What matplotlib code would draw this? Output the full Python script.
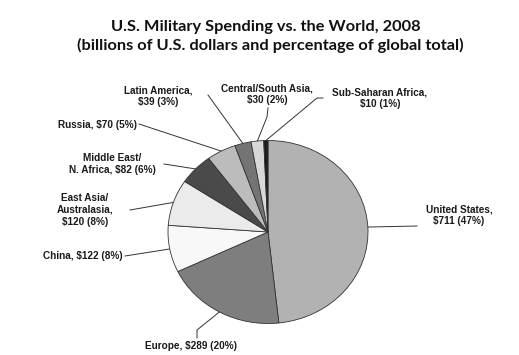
import numpy as np
import matplotlib
matplotlib.use("Agg")
import matplotlib.pyplot as plt

regions = ["United States", "Europe", "China", "East Asia/Australasia", "Middle East/N. Africa",
           "Russia", "Latin America", "Central/South Asia", "Sub-Saharan Africa"]
spending = [711, 289, 122, 120, 82, 70, 39, 30, 10]
percents = [47, 20, 8, 8, 6, 5, 3, 2, 1]
label_texts = ["United States,\n$711 (47%)",
               "Europe, $289 (20%)",
               "China, $122 (8%)",
               "East Asia/\nAustralasia,\n$120 (8%)",
               "Middle East/\nN. Africa, $82 (6%)",
               "Russia, $70 (5%)",
               "Latin America,\n$39 (3%)",
               "Central/South Asia,\n$30 (2%)",
               "Sub-Saharan Africa,\n$10 (1%)"]
colors = ["#b2b2b2", "#7e7e7e", "#f8f8f8", "#ebebeb", "#4a4a4a",
          "#bcbcbc", "#747474", "#d8d8d8", "#1c1c1c"]

W, H = 519, 355
cx, cy, rx, ry = 268, 232, 100, 91.5

# label placement in pixel coords: (x, y, ha) and leader path points (label side)
label_pos = [(459, 215, "center"), (191, 346, "center"), (123, 256, "right"),
             (85, 210, "center"), (112, 164, "center"), (137, 125, "right"),
             (158, 96, "center"), (267, 94, "center"), (380, 98, "center")]
leader_pts = [[(417, 226)], [(197, 338), (197, 330)], [(125, 256)],
              [(130, 210)], [(164, 164)], [(139, 124)],
              [(208, 95)], [(268, 108), (267, 117)], [(323, 98), (317, 98)]]

fig = plt.figure(figsize=(W / 100, H / 100), dpi=100)
over = fig.add_axes([0, 0, 1, 1])
over.set_xlim(0, W)
over.set_ylim(H, 0)
over.axis("off")

pax = fig.add_axes([(cx - rx) / W, (H - cy - ry) / H, 2 * rx / W, 2 * ry / H])
wedges, _ = pax.pie(spending, colors=colors, startangle=90, counterclock=False,
                    radius=1, wedgeprops=dict(edgecolor="#333333", linewidth=0.6))
pax.set_aspect("auto")
pax.set_xlim(-1, 1)
pax.set_ylim(-1, 1)
pax.axis("off")

lab_font = dict(family="Liberation Sans", fontweight="bold", fontsize=7.2, color="#1a1a1a")
for w, txt, (lx, ly, ha), pts in zip(wedges, label_texts, label_pos, leader_pts):
    mid = np.deg2rad((w.theta1 + w.theta2) / 2)
    ex, ey = cx + rx * np.cos(mid), cy - ry * np.sin(mid)
    xs = [p[0] for p in pts] + [ex]
    ys = [p[1] for p in pts] + [ey]
    over.plot(xs, ys, color="#333333", lw=0.7)
    over.text(lx, ly, txt, ha=ha, va="center", multialignment="center",
              linespacing=1.2, **lab_font)

title_font = dict(family="Lato", fontweight="bold", fontsize=11.8, color="#111111")
over.text(266, 31.5, "U.S. Military Spending vs. the World, 2008",
          ha="center", va="baseline", **title_font)
over.text(270, 50, "(billions of U.S. dollars and percentage of global total)",
          ha="center", va="baseline", **title_font)

fig.savefig("out.png", dpi=100)
